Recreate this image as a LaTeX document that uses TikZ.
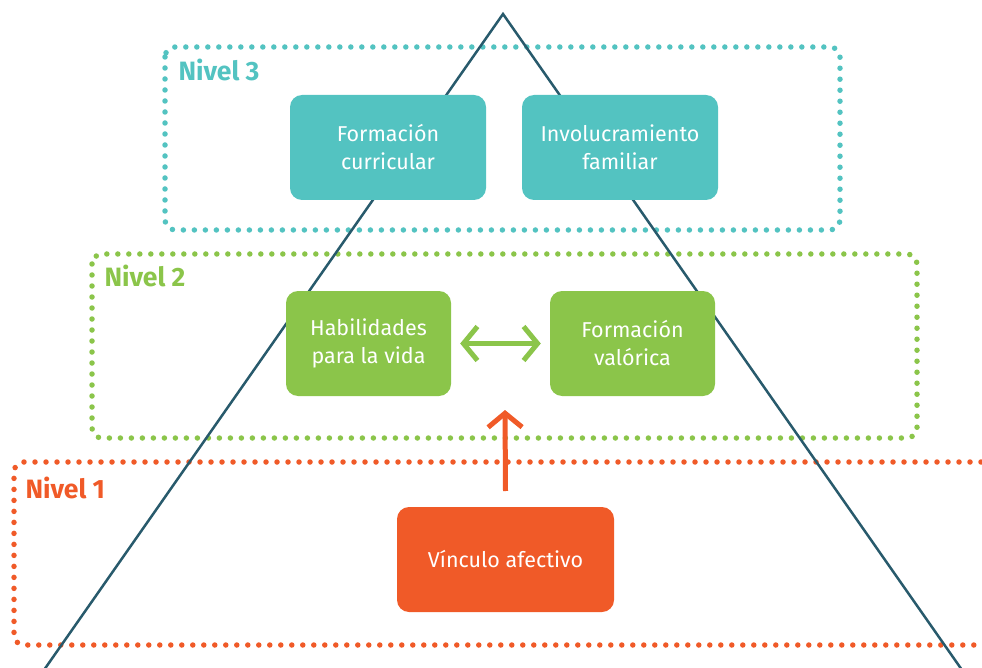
\documentclass[tikz,border=0pt]{standalone}
\usepackage{fontspec}
\setmainfont{Fira Sans}
\usetikzlibrary{arrows.meta}
\definecolor{teal3}{HTML}{53C3C1}
\definecolor{green2}{HTML}{8BC54A}
\definecolor{orange1}{HTML}{F05A28}
\definecolor{pyr}{HTML}{285A6C}
\begin{document}
\begin{tikzpicture}[x=1pt,y=-1pt,
  dotline/.style={line width=5.5pt, line cap=round, dash pattern=on 0pt off 11pt, rounded corners=10pt},
  boxnode/.style={rounded corners=12pt, minimum width=#1, minimum height=105pt, text=white, align=center, font=\fontsize{21.5}{28}\selectfont, inner sep=0pt},
  lvl/.style={font=\fontsize{26.5}{28}\selectfont\bfseries, anchor=west},
  >={Straight Barb[length=14pt,width=34pt]}
]
\useasboundingbox (0,0) rectangle (982,668);
% level frames
\draw[dotline, teal3] (165,47) rectangle (840,230);
\draw[dotline, green2] (92,254) rectangle (917,438);
\draw[dotline, orange1] (992,462) -- (14,462) -- (14,645) -- (992,645);
% pyramid
\coordinate (apex) at (503,14);
\coordinate (bl) at (37,680);
\coordinate (br) at (969,680);
\draw[pyr, line width=2.5pt] (bl) -- (apex) -- (br);
% labels
\node[lvl, text=teal3] (n3) at (175,70) {Nivel 3};
\node[lvl, text=green2] (n2) at (101,276) {Nivel 2};
\node[lvl, text=orange1] (n1) at (22,488) {Nivel 1};
% boxes
\node[boxnode=196pt, fill=teal3] (fc) at (388,147.5) {Formación\\curricular};
\node[boxnode=196pt, fill=teal3] (if) at (620,147.5) {Involucramiento\\familiar};
\node[boxnode=165pt, fill=green2] (hv) at (368.5,343.5) {Habilidades\\para la vida};
\node[boxnode=165pt, fill=green2] (fv) at (632.5,343.5) {Formación\\valórica};
\node[boxnode=217pt, fill=orange1] (va) at (505.5,559.5) {Vínculo afectivo};
% arrows
\draw[green2, line width=5pt, <->, shorten <=9pt, shorten >=9pt] (hv.east) -- (fv.west);
\coordinate (up) at (505,410);
\draw[orange1, line width=5pt, ->] (va.north |- 0,491) -- (up);
\end{tikzpicture}
\end{document}
